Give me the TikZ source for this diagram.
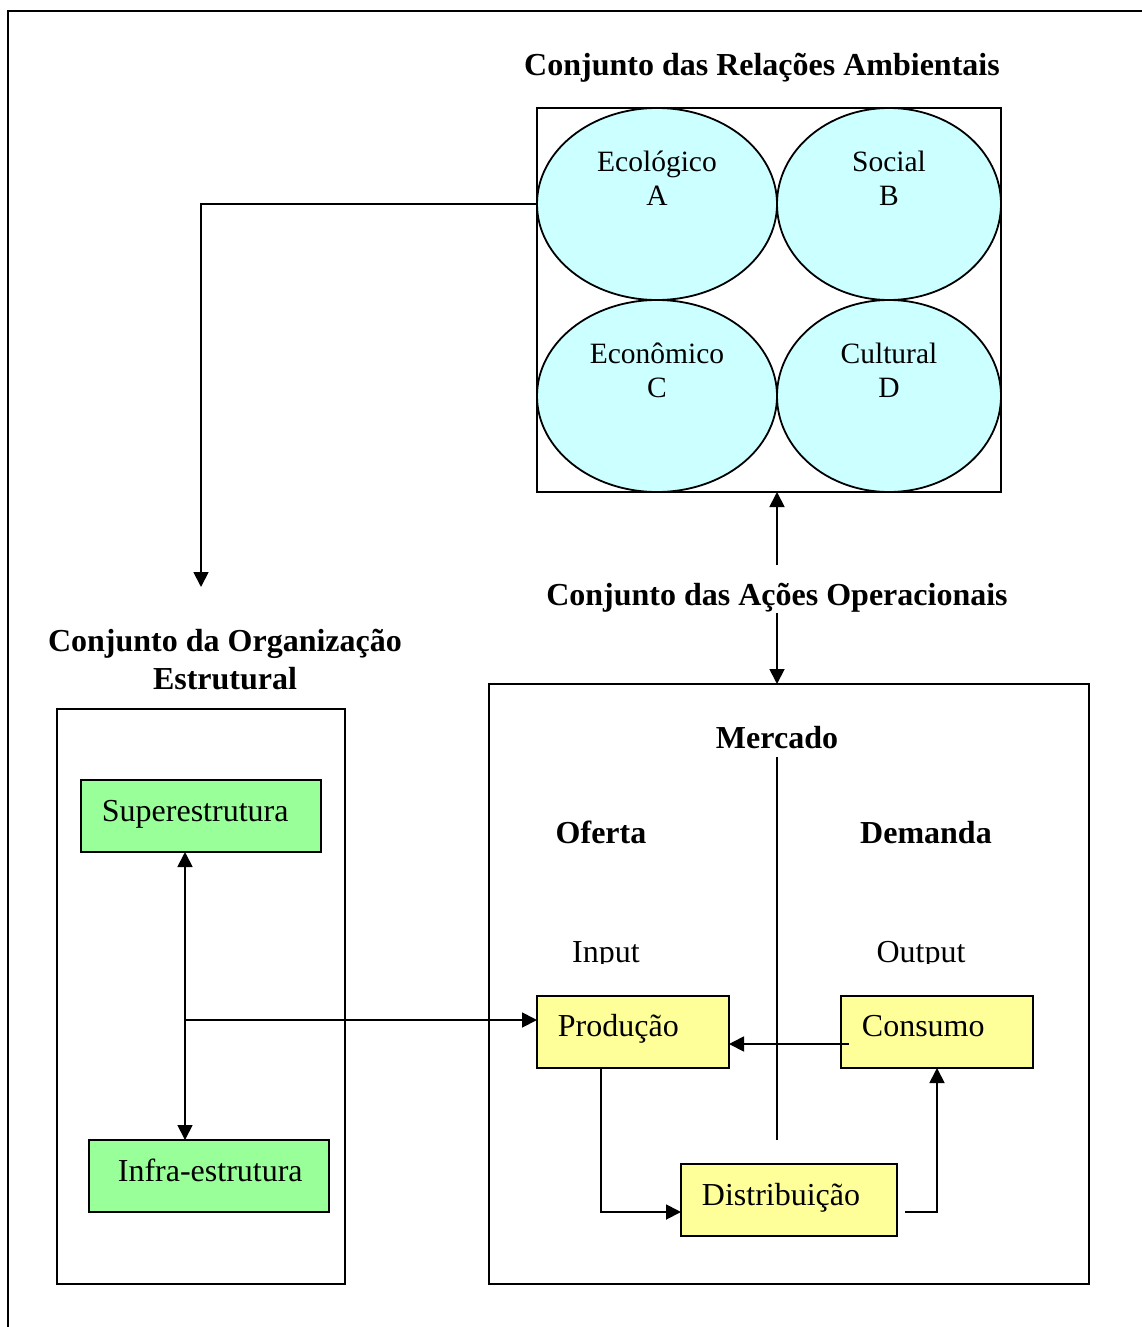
\documentclass[tikz,border=0pt]{standalone}
\usepackage{fontspec}
\setmainfont{Liberation Serif}
\usetikzlibrary{arrows.meta,shapes.geometric}
\definecolor{cyanfill}{HTML}{CCFFFF}
\definecolor{greenfill}{HTML}{99FF99}
\definecolor{yellowfill}{HTML}{FFFF99}
\begin{document}
\begin{tikzpicture}[x=1pt,y=-1pt,line width=1.8pt,
  tip/.style={-{Triangle[length=15pt,width=15pt]}},
  tips/.style={{Triangle[length=15pt,width=15pt]}-{Triangle[length=15pt,width=15pt]}},
  btext/.style={font=\fontsize{32}{38}\selectfont\bfseries,inner sep=0pt,anchor=base},
  rtext/.style={font=\fontsize{32}{38}\selectfont,inner sep=0pt,anchor=base west},
  etext/.style={font=\fontsize{29.5}{34}\selectfont,inner sep=0pt,anchor=base},
  frame/.style={draw,inner sep=0pt,outer sep=0pt,anchor=north west},
  ell/.style={ellipse,draw,fill=cyanfill,inner sep=0pt,outer sep=0pt,minimum height=192pt},
  gbox/.style={frame,fill=greenfill,minimum width=240pt,minimum height=72pt},
  ybox/.style={frame,fill=yellowfill,minimum height=72pt}]
\useasboundingbox (0,0) rectangle (1142,1327);
% outer frame
\draw (8,1327) -- (8,11) -- (1142,11);

% environmental relations
\node[btext] (tenv) at (762,76) {Conjunto das Relações Ambientais};
\node[ell,minimum width=240pt] (eA) at (657,204) {};
\node[ell,minimum width=224pt] (eB) at (889,204) {};
\node[ell,minimum width=240pt] (eC) at (657,396) {};
\node[ell,minimum width=224pt] (eD) at (889,396) {};
\node[frame,minimum width=464pt,minimum height=384pt] (env) at (537,108) {};
\node[etext] (tA1) at (657,171) {Ecológico};
\node[etext] (tA2) at (657,205) {A};
\node[etext] (tB1) at (889,171) {Social};
\node[etext] (tB2) at (889,205) {B};
\node[etext] (tC1) at (657,363) {Econômico};
\node[etext] (tC2) at (657,397) {C};
\node[etext] (tD1) at (889,363) {Cultural};
\node[etext] (tD2) at (889,397) {D};

% arrow to organisation
\coordinate (orgtop) at (201,587);
\draw[tip] (eA.west) -| (orgtop);

% organisation
\node[btext] (torg1) at (225,651) {Conjunto da Organização};
\node[btext] (torg2) at (225,689) {Estrutural};
\node[frame,minimum width=288pt,minimum height=575pt] (orgbox) at (57,709) {};
\node[gbox] (sup) at (81,780) {};
\node[rtext] (tsup) at (101,821) {Superestrutura};
\node[gbox] (inf) at (89,1140) {};
\node[rtext] (tinf) at (117,1181) {Infra-estrutura};
\coordinate (sx) at (185,0);
\draw[tips] (sx |- sup.south) -- (sx |- inf.north);

% market
\node[frame,minimum width=600pt,minimum height=600pt] (merc) at (489,684) {};
\draw[tips] (eA.east |- env.south) -- (eA.east |- merc.north);
\node[btext,fill=white,inner xsep=3pt,text height=40pt,text depth=8pt] (tops) at (777,605) {Conjunto das Ações Operacionais};

\node[btext] (tmerc) at (777,748) {Mercado};
\coordinate (vtop) at (777,757);
\coordinate (vbot) at (777,1140);
\draw (vtop) -- (vbot);
\node[btext] (tof) at (601,843) {Oferta};
\node[btext] (tdem) at (926,843) {Demanda};
\begin{scope}
\clip (489,900) rectangle (1089,963);
\node[rtext,anchor=base] (tin) at (606,962) {Input};
\node[rtext,anchor=base] (tout) at (921,962) {Output};
\end{scope}

\node[ybox,minimum width=192pt] (prod) at (537,996) {};
\node[rtext] (tprod) at (557,1036) {Produção};
\node[ybox,minimum width=192pt] (cons) at (841,996) {};
\node[rtext] (tcons) at (861,1036) {Consumo};
\node[ybox,minimum width=216pt] (dist) at (681,1164) {};
\node[rtext] (tdist) at (701,1205) {Distribuição};

\coordinate (jn) at (185,1020);
\coordinate (cs) at (849,1044);
\coordinate (pd) at (601,1068);
\coordinate (de) at (905,1212);
\draw[tip] (jn) -- (jn -| prod.west);
\draw[tip] (cs) -- (cs -| prod.east);
\draw[tip] (pd) |- (de -| dist.west);
\draw[tip] (de) -| (cons.south);
\end{tikzpicture}
\end{document}
